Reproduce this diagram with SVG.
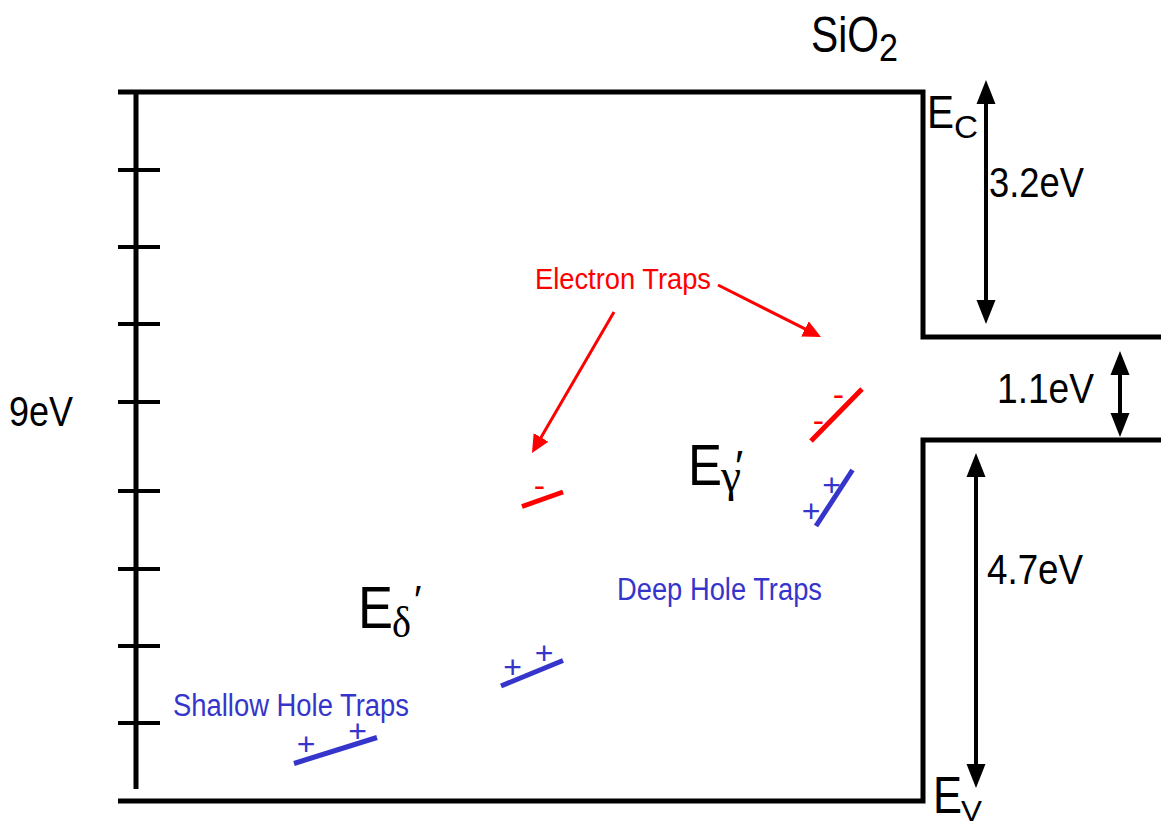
<svg xmlns="http://www.w3.org/2000/svg" width="1161" height="822" viewBox="0 0 1161 822">
<style>
.band{fill:none;stroke:#000;stroke-width:5;stroke-linejoin:miter}
.tick{stroke:#000;stroke-width:4}
.t{font-family:"Liberation Sans",Arial,sans-serif;fill:#000}
.g{font-family:"Liberation Serif","Times New Roman",serif;fill:#000}
.red{fill:#ff0000}
.blue{fill:#3535cc}
.rline{stroke:#ff0000;stroke-width:5}
.bline{stroke:#3535cc;stroke-width:5}
.dbl{stroke:#000;stroke-width:4}
.rarr{stroke:#ff0000;stroke-width:3}
</style>
<defs>
<marker id="ah" markerUnits="userSpaceOnUse" markerWidth="26" markerHeight="22" viewBox="0 -11 26 22" refX="19" refY="0" orient="auto-start-reverse">
<path d="M0,-9.5 L24,0 L0,9.5 Z" fill="#000"/>
</marker>
<marker id="rh" markerUnits="userSpaceOnUse" markerWidth="20" markerHeight="20" viewBox="0 -10 20 20" refX="14" refY="0" orient="auto">
<path d="M0,-8.5 L18,0 L0,8.5 Z" fill="#ff0000"/>
</marker>
</defs>
<rect width="1161" height="822" fill="#fff"/>

<g id="band-diagram">
<polyline class="band" points="118,92 923,92 923,337 1161,337"/>
<polyline class="band" points="1161,440 923,440 923,801 118,801"/>
<line class="band" x1="136" y1="92" x2="136" y2="789"/>
<line class="tick" x1="118" y1="170" x2="160" y2="170"/>
<line class="tick" x1="118" y1="247" x2="160" y2="247"/>
<line class="tick" x1="118" y1="324" x2="160" y2="324"/>
<line class="tick" x1="118" y1="402" x2="160" y2="402"/>
<line class="tick" x1="118" y1="491" x2="160" y2="491"/>
<line class="tick" x1="118" y1="569" x2="160" y2="569"/>
<line class="tick" x1="118" y1="646" x2="160" y2="646"/>
<line class="tick" x1="118" y1="723" x2="160" y2="723"/>
</g>

<g id="label-9eV"><text class="t" x="9" y="426" font-size="42" textLength="64" lengthAdjust="spacingAndGlyphs">9eV</text></g>
<g id="label-SiO2">
<text class="t" x="811" y="52" font-size="50" textLength="68" lengthAdjust="spacingAndGlyphs">SiO</text>
<text class="t" x="879" y="61" font-size="38" textLength="19" lengthAdjust="spacingAndGlyphs">2</text>
</g>
<g id="label-EC">
<text class="t" x="927" y="128" font-size="47" textLength="27" lengthAdjust="spacingAndGlyphs">E</text>
<text class="t" x="954" y="138" font-size="31" textLength="24" lengthAdjust="spacingAndGlyphs">C</text>
</g>
<g id="label-EV">
<text class="t" x="933" y="813" font-size="52" textLength="29" lengthAdjust="spacingAndGlyphs">E</text>
<text class="t" x="961" y="821" font-size="30" textLength="21" lengthAdjust="spacingAndGlyphs">V</text>
</g>
<g id="label-3.2eV"><text class="t" x="989" y="197" font-size="42" textLength="95" lengthAdjust="spacingAndGlyphs">3.2eV</text></g>
<g id="label-1.1eV"><text class="t" x="997" y="403" font-size="42" textLength="97" lengthAdjust="spacingAndGlyphs">1.1eV</text></g>
<g id="label-4.7eV"><text class="t" x="987" y="584" font-size="42" textLength="96" lengthAdjust="spacingAndGlyphs">4.7eV</text></g>

<g id="label-Egamma">
<text class="t" x="688" y="485" font-size="58" textLength="34" lengthAdjust="spacingAndGlyphs">E</text>
<text class="g" x="721" y="491" font-size="46" textLength="20" lengthAdjust="spacingAndGlyphs">γ</text>
<text class="t" x="735" y="482" font-size="44">′</text>
</g>
<g id="label-Edelta">
<text class="t" x="358" y="628" font-size="60" textLength="35" lengthAdjust="spacingAndGlyphs">E</text>
<text class="g" x="392" y="637" font-size="44" textLength="19" lengthAdjust="spacingAndGlyphs">δ</text>
<text class="t" x="414" y="614" font-size="40">′</text>
</g>

<g id="label-electron-traps"><text class="t red" x="535" y="289" font-size="29" textLength="176" lengthAdjust="spacingAndGlyphs">Electron Traps</text></g>
<g id="label-deep-hole-traps"><text class="t blue" x="617" y="600" font-size="31" textLength="205" lengthAdjust="spacingAndGlyphs">Deep Hole Traps</text></g>
<g id="label-shallow-hole-traps"><text class="t blue" x="173" y="716" font-size="31" textLength="236" lengthAdjust="spacingAndGlyphs">Shallow Hole Traps</text></g>

<g id="trap-electron-1">
<line class="rline" x1="522" y1="506.5" x2="563" y2="492"/>
<text class="t red" x="539.5" y="496.5" font-size="34" text-anchor="middle">-</text>
</g>
<g id="trap-electron-2">
<line class="rline" x1="811" y1="441" x2="862" y2="389"/>
<text class="t red" x="838.5" y="405.5" font-size="34" text-anchor="middle">-</text>
<text class="t red" x="818.5" y="431.5" font-size="34" text-anchor="middle">-</text>
</g>
<g id="trap-deep-hole">
<line class="bline" x1="816" y1="526" x2="852.5" y2="470"/>
<text class="t blue" x="831.5" y="495.5" font-size="32" text-anchor="middle">+</text>
<text class="t blue" x="811" y="522" font-size="32" text-anchor="middle">+</text>
</g>
<g id="trap-mid-hole">
<line class="bline" x1="501" y1="686" x2="563" y2="660.5"/>
<text class="t blue" x="512.5" y="677.5" font-size="32" text-anchor="middle">+</text>
<text class="t blue" x="544" y="664" font-size="32" text-anchor="middle">+</text>
</g>
<g id="trap-shallow-hole">
<line class="bline" x1="294" y1="763.5" x2="377" y2="737.5"/>
<text class="t blue" x="306" y="754.5" font-size="32" text-anchor="middle">+</text>
<text class="t blue" x="357.5" y="742" font-size="32" text-anchor="middle">+</text>
</g>

<g id="connectors">
<line class="dbl" x1="986" y1="85" x2="986" y2="319" marker-start="url(#ah)" marker-end="url(#ah)"/>
<line class="dbl" x1="1120" y1="356" x2="1120" y2="432" marker-start="url(#ah)" marker-end="url(#ah)"/>
<line class="dbl" x1="976" y1="458" x2="976" y2="783" marker-start="url(#ah)" marker-end="url(#ah)"/>
<line class="rarr" x1="614" y1="312" x2="534" y2="449.5" marker-end="url(#rh)"/>
<line class="rarr" x1="718" y1="285" x2="817.4" y2="335.2" marker-end="url(#rh)"/>
</g>
</svg>
